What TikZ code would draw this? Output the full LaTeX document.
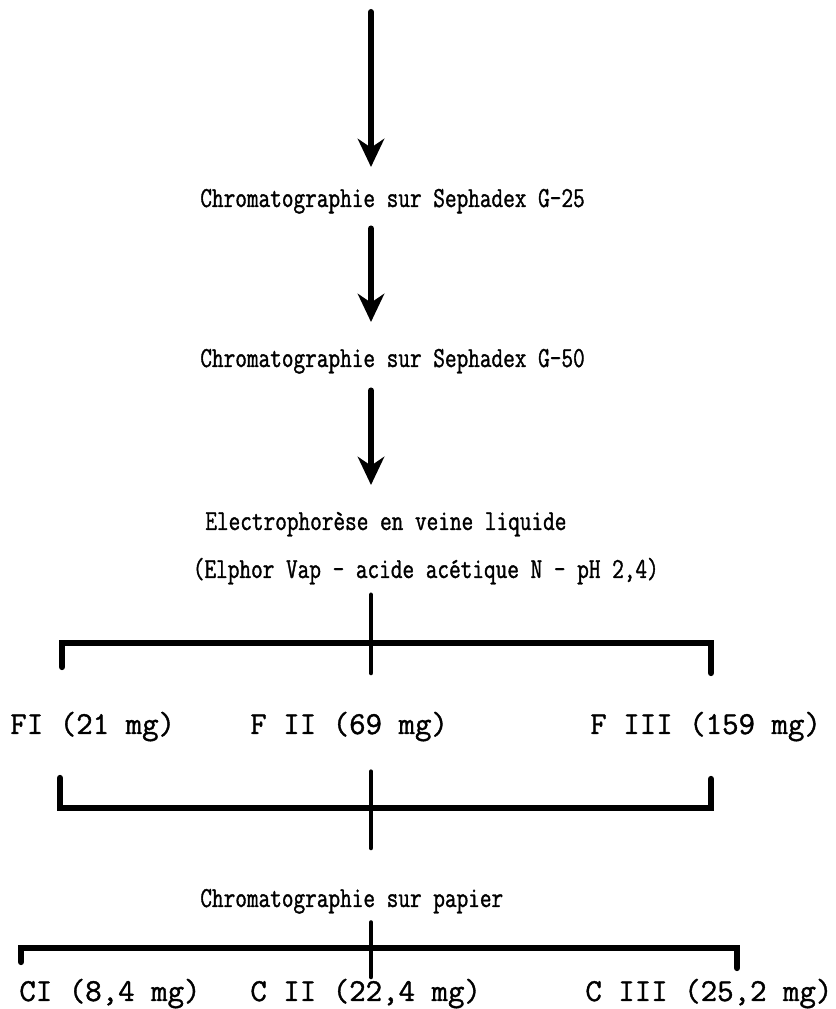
\documentclass[tikz,border=0pt]{standalone}
\usepackage{fontspec}
\usetikzlibrary{arrows.meta}
\newfontfamily\typewriter{Latin Modern Mono}[FakeBold=1.2]
\newfontfamily\elite{Latin Modern Mono}[FakeBold=1.2, FakeStretch=0.78]

\begin{document}
\begin{tikzpicture}[
  txt/.style={anchor=base west, inner sep=0pt, font=\elite\fontsize{16.5}{19}\selectfont},
  big/.style={txt, font=\typewriter\fontsize{18.2}{21}\selectfont},
  flow/.style={line width=3.4pt, line cap=round, -{Stealth[length=16pt,width=15pt,inset=5pt]}},
  bar/.style={line width=3.6pt, line cap=round},
  stem/.style={line width=2.6pt, line cap=round}
]
\useasboundingbox (0,0) rectangle (16.7,20.18);
\coordinate (axis) at (7.42,0);

% purification steps
\node[txt] (sephA) at (4.0,16.04) {Chromatographie sur Sephadex G-25};
\node[txt] (sephB) at (4.0,12.84) {Chromatographie sur Sephadex G-50};
\node[txt] (electro) at (4.1,9.58) {Electrophorèse en veine liquide};
\node[txt] (elphor) at (3.85,8.62) {(Elphor Vap - acide acétique N - pH 2,4)};

\coordinate (start) at (7.42,19.94);
\draw[flow] (start) -- (7.42,16.84);
\draw[flow] (sephA.south -| axis) ++(0,-0.29) -- (7.42,13.74);
\draw[flow] (sephB.south -| axis) ++(0,-0.33) -- (7.42,10.48);

% fractions after electrophoresis
\node[big] (fOne) at (0.2,5.5) {FI (21 mg)};
\node[big] (fTwo) at (5.0,5.5) {F II (69 mg)};
\node[big] (fThree) at (11.8,5.5) {F III (159 mg)};

\draw[stem] (elphor.south -| axis) ++(0,-0.2) -- (7.42,6.72);
\draw[bar] (1.24,6.84) |- (14.22,7.32) -- (14.22,6.72);

\draw[bar] (1.2,4.62) |- (14.22,4.02) -- (14.22,4.6);
\draw[stem] (fTwo.south -| axis) ++(0,-0.6) -- (7.42,3.22);

% paper chromatography
\node[txt] (papier) at (4.0,2.04) {Chromatographie sur papier};
\node[big] (cOne) at (0.38,0.16) {CI (8,4 mg)};
\node[big] (cTwo) at (5.0,0.16) {C II (22,4 mg)};
\node[big] (cThree) at (11.7,0.16) {C III (25,2 mg)};

\draw[stem] (papier.south -| axis) ++(0,-0.17) -- (7.42,0.64);
\draw[bar] (0.42,0.94) |- (14.74,1.22) -- (14.74,0.82);
\end{tikzpicture}
\end{document}
